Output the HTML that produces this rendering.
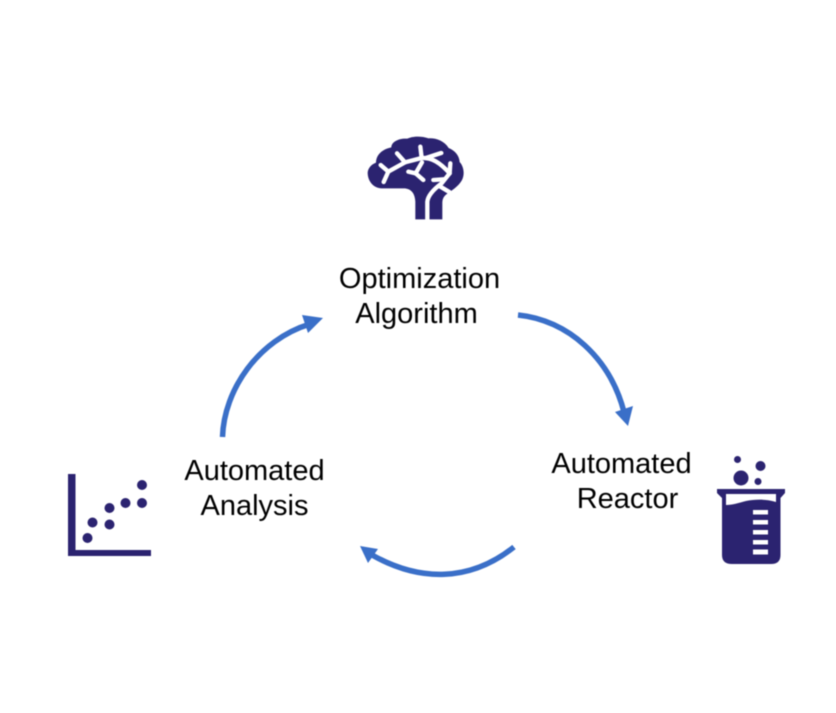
<!DOCTYPE html>
<html>
<head>
<meta charset="utf-8">
<style>
html,body{margin:0;padding:0;background:#fff;}
body{width:836px;height:713px;overflow:hidden;}
svg{display:block;filter:blur(0.4px);}
text{font-family:"Liberation Sans",sans-serif;font-size:29px;fill:#000;text-anchor:middle;}
</style>
</head>
<body>
<svg width="836" height="713" viewBox="0 0 836 713" xmlns="http://www.w3.org/2000/svg">
<rect width="836" height="713" fill="#fff"/>

<!-- Brain -->
<g transform="translate(350,120) scale(0.3333)">
<path fill="#2b2370" d="M196 298 L196 245 C195 222 185 207 165 205 L95 205 C72 205 53 185 53 158 C54 145 63 134 78 128 C78 106 95 88 124 82 C124 66 146 54 172 56 C186 49 212 47 236 55 C258 54 282 62 296 84 C316 92 328 108 329 126 C342 140 345 165 335 182 C325 200 302 214 288 224 C279 232 277 240 277 250 L277 298 Z"/>
<g fill="none" stroke="#fff" stroke-width="13" stroke-linecap="round" stroke-linejoin="round">
<path d="M101 186 L115 155 L165 127 L215 114 C245 112 270 128 299 160 L275 190 C255 205 234 225 232 245 L232 310"/>
<path d="M115 155 L92 135"/>
<path d="M165 127 L141 100"/>
<path d="M215 114 L211 80"/>
<path d="M228 114 L274 99"/>
<path d="M216 127 L197 160 L175 155"/>
<path d="M197 160 L220 180"/>
<path d="M250 180 L282 178"/>
<path d="M268 198 L298 216"/>
<path d="M299 160 L301 130"/>
</g>
</g>

<!-- Labels -->
<text x="419.500" y="288">Optimization</text>
<text x="416.500" y="323">Algorithm</text>
<text x="621.500" y="473">Automated</text>
<text x="627.500" y="508">Reactor</text>
<text x="254.500" y="480">Automated</text>
<text x="254.500" y="515">Analysis</text>

<!-- Arrows -->
<g fill="none" stroke="#3a6fc8" stroke-width="5.500">
<path d="M518 315 C568 320 610 358 624 412"/>
<path d="M222.500 437 C224 390 258 340 310 324"/>
<path d="M514 547 C470 582 420 582 372 555"/>
</g>
<g fill="#3a6fc8">
<path d="M628 426 L615 412 L633 406 Z"/>
<path d="M323 318 L302 315 L308 333 Z"/>
<path d="M360 546 L378 549 L368 563 Z"/>
</g>

<!-- Scatter chart -->
<g fill="#2b2370">
<rect x="68" y="474" width="7.500" height="82"/>
<rect x="68" y="550" width="83" height="6"/>
<circle cx="87.500" cy="538" r="5"/>
<circle cx="92.500" cy="522.500" r="5"/>
<circle cx="109.500" cy="524.500" r="5"/>
<circle cx="109.500" cy="508" r="5"/>
<circle cx="125.500" cy="503" r="5"/>
<circle cx="142" cy="503" r="5"/>
<circle cx="142" cy="485" r="5"/>
</g>

<!-- Beaker -->
<g fill="#2b2370">
<circle cx="737.500" cy="459.500" r="3.500"/>
<circle cx="760.500" cy="466" r="5"/>
<circle cx="741" cy="478" r="7.500"/>
<circle cx="758" cy="481.500" r="3.500"/>
<path d="M717 489 L785 489 L785 493 L780.500 498 L780.500 555 Q780.500 564 771 564 L732 564 Q722 564 722 555 L722 498 L717 493 Z"/>
</g>
<path d="M726 494 L776 494 L776 502 C766 499 756 499 746 501 C738 503 733 505 726 505 Z" fill="#fff"/>
<g fill="#fff">
<rect x="753" y="510" width="15" height="4.500"/>
<rect x="753" y="520" width="15" height="4.500"/>
<rect x="753" y="530" width="15" height="4.500"/>
<rect x="753" y="540" width="15" height="4.500"/>
<rect x="753" y="549.500" width="15" height="5"/>
</g>
</svg>
</body>
</html>
